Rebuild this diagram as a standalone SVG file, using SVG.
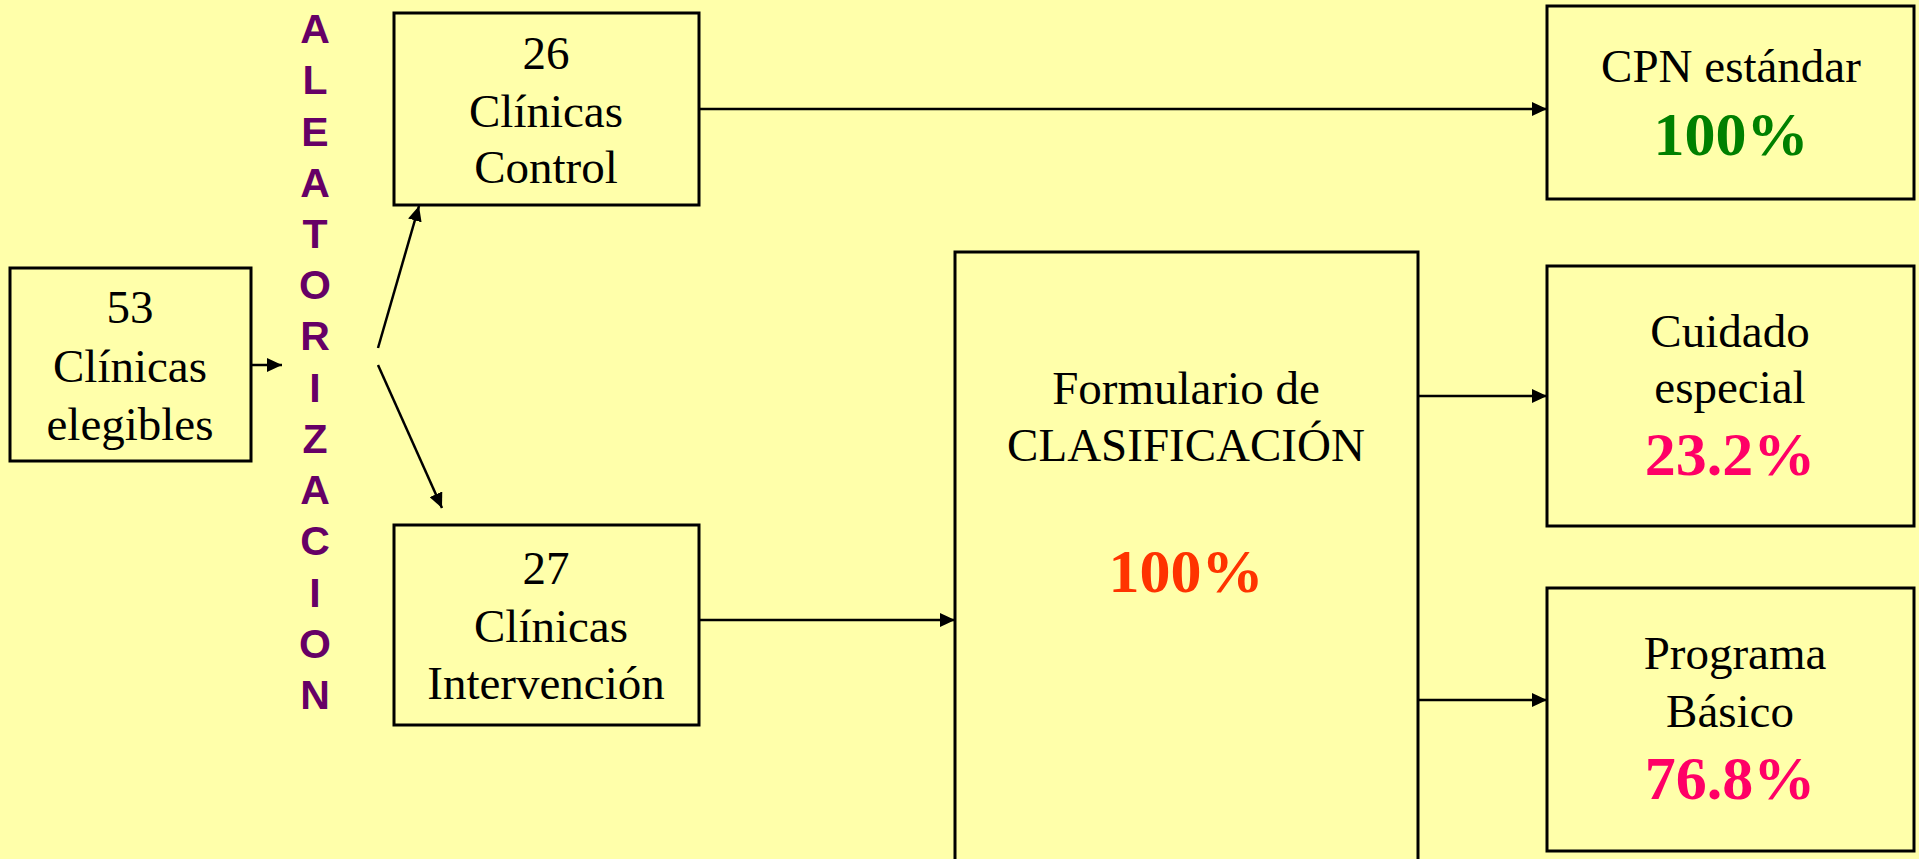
<svg xmlns="http://www.w3.org/2000/svg" width="1919" height="859" viewBox="0 0 1919 859">
<defs>
<marker id="ah" markerUnits="userSpaceOnUse" markerWidth="15" markerHeight="14" refX="15" refY="7" orient="auto">
<path d="M0,0 L15,7 L0,14 z" fill="#000"/>
</marker>
<style>
.box{fill:none;stroke:#000;stroke-width:3}
.t{font-family:"Liberation Serif","Times New Roman",serif;font-size:47px;fill:#000;text-anchor:middle}
.p{font-family:"Liberation Serif","Times New Roman",serif;font-size:62px;font-weight:bold;text-anchor:middle}
.r{font-family:"Liberation Sans",Arial,sans-serif;font-size:41px;font-weight:bold;fill:#660066;text-anchor:middle}
.c{stroke:#000;stroke-width:2.5;fill:none;marker-end:url(#ah)}
</style>
</defs>
<rect width="1919" height="859" fill="#FFFFAA"/>
<g id="connectors">
<line class="c" x1="251" y1="365" x2="282" y2="365"/>
<line class="c" x1="378" y1="348" x2="419" y2="206"/>
<line class="c" x1="378" y1="365" x2="442" y2="508"/>
<line class="c" x1="699" y1="109" x2="1547" y2="109"/>
<line class="c" x1="699" y1="620" x2="955" y2="620"/>
<line class="c" x1="1418" y1="396" x2="1547" y2="396"/>
<line class="c" x1="1418" y1="700" x2="1547" y2="700"/>
</g>
<g id="aleatorizacion">
<text class="r" x="315" y="43">A</text>
<text class="r" x="315" y="94">L</text>
<text class="r" x="315" y="146">E</text>
<text class="r" x="315" y="197">A</text>
<text class="r" x="315" y="248">T</text>
<text class="r" x="315" y="299">O</text>
<text class="r" x="315" y="350">R</text>
<text class="r" x="315" y="402">I</text>
<text class="r" x="315" y="453">Z</text>
<text class="r" x="315" y="504">A</text>
<text class="r" x="315" y="555">C</text>
<text class="r" x="315" y="607">I</text>
<text class="r" x="315" y="658">O</text>
<text class="r" x="315" y="709">N</text>
</g>
<g id="elegibles">
<rect class="box" x="10" y="268" width="241" height="193"/>
<text class="t" x="130" y="323">53</text>
<text class="t" x="130" y="382">Clínicas</text>
<text class="t" x="130" y="440">elegibles</text>
</g>
<g id="control">
<rect class="box" x="394" y="13" width="305" height="192"/>
<text class="t" x="546" y="69">26</text>
<text class="t" x="546" y="127">Clínicas</text>
<text class="t" x="546" y="183">Control</text>
</g>
<g id="intervencion">
<rect class="box" x="394" y="525" width="305" height="200"/>
<text class="t" x="546" y="584">27</text>
<text class="t" x="551" y="642">Clínicas</text>
<text class="t" x="546" y="699">Intervención</text>
</g>
<g id="formulario">
<rect class="box" x="955" y="252" width="463" height="620"/>
<text class="t" x="1186" y="404">Formulario de</text>
<text class="t" x="1186" y="461">CLASIFICACIÓN</text>
<text class="p" x="1186" y="592" fill="#FF3300">100%</text>
</g>
<g id="cpn">
<rect class="box" x="1547" y="6" width="367" height="193"/>
<text class="t" x="1731" y="82">CPN estándar</text>
<text class="p" x="1731" y="155" fill="#008000">100%</text>
</g>
<g id="cuidado">
<rect class="box" x="1547" y="266" width="367" height="260"/>
<text class="t" x="1730" y="347">Cuidado</text>
<text class="t" x="1730" y="403">especial</text>
<text class="p" x="1730" y="475" fill="#FF0066">23.2%</text>
</g>
<g id="programa">
<rect class="box" x="1547" y="588" width="367" height="263"/>
<text class="t" x="1735" y="669">Programa</text>
<text class="t" x="1730" y="727">Básico</text>
<text class="p" x="1730" y="799" fill="#FF0066">76.8%</text>
</g>
</svg>
